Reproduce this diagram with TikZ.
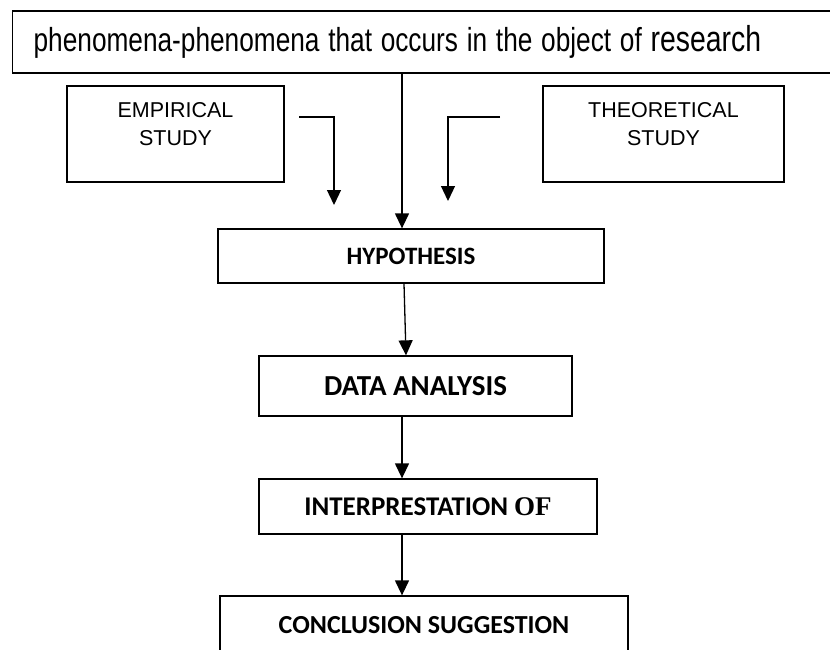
\documentclass[tikz,border=0pt]{standalone}
\usepackage{fontspec}
\setmainfont{Liberation Sans}
\newfontfamily\calibri{Carlito}
\newfontfamily\timesbold{Liberation Serif}
\usetikzlibrary{arrows.meta,positioning}

\begin{document}
\begin{tikzpicture}
			[x=1pt,y=-1pt,
			box/.style={shape=rectangle,draw=black,line width=1.3pt,inner sep=0pt},
			sidebox/.style={box,minimum width=217pt,minimum height=96pt},
			sidetext/.style={align=center,inner sep=0pt,font=\fontsize{21.5}{28}\selectfont},
			stepbox/.style={box,font=\calibri\bfseries},
			arc/.style={-{Triangle[width=14pt,length=15pt]},line width=1.3pt}]
			\useasboundingbox (0,0) rectangle (830,650);
			
			\node (top) [box,anchor=west,minimum height=62pt,text width=796pt,
				inner xsep=21pt,align=left,font=\fontsize{33.3}{38}\selectfont] at (12,42)
				{\scalebox{0.788}[1]{phenomena-phenomena that occurs in the object of {\fontsize{36}{38}\selectfont research}}};
			
			\node (emp) [sidebox] at (175.5,134) {};
			\node (theo) [sidebox,minimum width=241pt] at (663.5,134) {};
			\node (empt) [sidetext] at (175.5,124) {EMPIRICAL\\STUDY};
			\node (theot) [sidetext] at (663.5,124) {THEORETICAL\\STUDY};
			
			\node (hyp) [stepbox,minimum width=386pt,minimum height=54pt,
				font=\calibri\bfseries\fontsize{25}{30}\selectfont] at (411,256) {HYPOTHESIS};
			\node (data) [stepbox,minimum width=313pt,minimum height=60pt,
				font=\calibri\bfseries\fontsize{29}{34}\selectfont] at (415.5,386) {DATA ANALYSIS};
			\node (interp) [stepbox,minimum width=338pt,minimum height=55pt,
				font=\calibri\bfseries\fontsize{27}{32}\selectfont] at (428,506.5)
				{INTERPRESTATION {\timesbold\bfseries OF}};
			\node (concl) [stepbox,minimum width=408pt,minimum height=58pt,
				font=\calibri\bfseries\fontsize{26}{31}\selectfont] at (424,625) {CONCLUSION SUGGESTION};
			
			\coordinate (mx) at (402,0);
			\coordinate (empa) at (299,117);
			\coordinate (empb) at (334,205);
			\coordinate (theoa) at (500,117);
			\coordinate (theob) at (448,201);
			
			\draw [arc] (top.south -| mx) to (mx |- hyp.north);
			\draw [arc] (empa) -| (empb);
			\draw [arc] (theoa) -| (theob);
			\draw [arc] (hyp.south -| 404,0) to (data.north -| 406,0);
			\draw [arc] (data.south -| mx) to (mx |- interp.north);
			\draw [arc] (interp.south -| mx) to (mx |- concl.north);
			\end{tikzpicture}
\end{document}
